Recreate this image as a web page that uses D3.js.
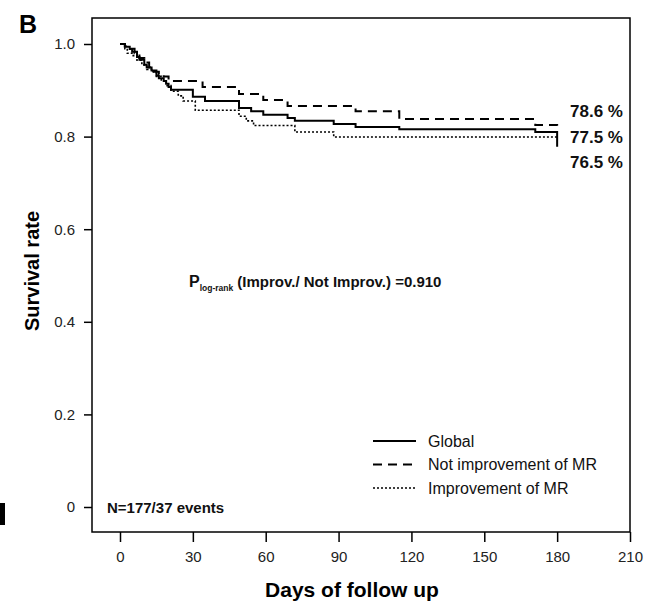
<!DOCTYPE html>
<html>
<head>
<meta charset="utf-8">
<script src="https://cdn.jsdelivr.net/npm/d3@7"></script>
<style>
  body { margin: 0; background: #fff; }
  svg { font-family: "Liberation Sans", Arial, sans-serif; }
</style>
</head>
<body>
<div id="chart"></div>
<script>
// Kaplan-Meier step data (days, survival)
var globalDays  = [0, 2, 4, 5, 7, 8, 10, 11, 13, 15, 16, 18, 19, 20, 21, 30, 35, 49, 54, 59, 69, 72, 88, 97, 115, 171, 180];
var globalSurv  = [1.0, 0.994, 0.989, 0.983, 0.972, 0.966, 0.955, 0.949, 0.943, 0.932, 0.926, 0.92, 0.914, 0.907, 0.901, 0.886, 0.877, 0.862, 0.855, 0.847, 0.840, 0.834, 0.827, 0.821, 0.816, 0.810, 0.778];

var notImpDays  = [0, 2, 4, 6, 8, 10, 12, 14, 16, 18, 20, 34, 49, 59, 69, 97, 115, 171, 180];
var notImpSurv  = [1.0, 0.995, 0.99, 0.98, 0.97, 0.96, 0.95, 0.94, 0.935, 0.93, 0.92, 0.907, 0.892, 0.879, 0.866, 0.855, 0.838, 0.825, 0.814];

var impDays     = [0, 2, 3, 5, 7, 9, 11, 13, 15, 17, 19, 21, 24, 26, 31, 49, 52, 55, 72, 88, 180];
var impSurv     = [1.0, 0.99, 0.98, 0.975, 0.965, 0.955, 0.945, 0.94, 0.93, 0.92, 0.91, 0.898, 0.888, 0.877, 0.857, 0.844, 0.834, 0.824, 0.810, 0.799, 0.799];

var xTicks = [0, 30, 60, 90, 120, 150, 180, 210];
var yTicks = [0, 0.2, 0.4, 0.6, 0.8, 1.0];
var endLabels = ["78.6 %", "77.5 %", "76.5 %"];
var legendNames = ["Global", "Not improvement of MR", "Improvement of MR"];

var width = 646, height = 601;

var svg = d3.select("#chart").append("svg")
    .attr("width", width)
    .attr("height", height);

var x = d3.scaleLinear().domain([0, 210]).range([120, 630]);
var y = d3.scaleLinear().domain([0, 1]).range([507, 44]);

// box around the plot
svg.append("rect")
    .attr("x", 92).attr("y", 18)
    .attr("width", 630 - 92).attr("height", 532 - 18)
    .attr("fill", "none")
    .attr("stroke", "#000")
    .attr("stroke-width", 1.5);

// y axis
var yAxis = svg.append("g")
    .attr("transform", "translate(92,0)")
    .call(d3.axisLeft(y).tickValues(yTicks).tickSize(8).tickPadding(9)
        .tickFormat(function(d) { return d === 0 ? "0" : d3.format(".1f")(d); }));
yAxis.select(".domain").remove();

// x axis
var xAxis = svg.append("g")
    .attr("transform", "translate(0,532)")
    .call(d3.axisBottom(x).tickValues(xTicks).tickSize(10).tickPadding(9));
xAxis.select(".domain").remove();

svg.selectAll(".tick line").attr("stroke", "#000").attr("stroke-width", 1.5);
svg.selectAll(".tick text")
    .attr("fill", "#222")
    .style("font-size", "15px")
    .style("font-family", "'Liberation Sans', Arial, sans-serif");

// axis titles
svg.append("text")
    .attr("x", 352).attr("y", 597)
    .attr("text-anchor", "middle")
    .attr("font-weight", "bold")
    .attr("font-size", 21)
    .text("Days of follow up");

svg.append("text")
    .attr("transform", "translate(39,271) rotate(-90)")
    .attr("text-anchor", "middle")
    .attr("font-weight", "bold")
    .attr("font-size", 20)
    .text("Survival rate");

// panel letter
svg.append("text")
    .attr("x", 19).attr("y", 33)
    .attr("font-weight", "bold")
    .attr("font-size", 25)
    .text("B");

// cut-off piece of the neighbouring panel at the left edge
svg.append("path")
    .attr("d", "M0,503 L5,503 L5,525 L0,525 Z")
    .attr("fill", "#000");

// curves
function toPoints(days, surv) {
    return days.map(function(d, i) { return [d, surv[i]]; });
}

var line = d3.line()
    .x(function(d) { return x(d[0]); })
    .y(function(d) { return y(d[1]); })
    .curve(d3.curveStepAfter);

var series = [
    { pts: toPoints(impDays, impSurv), dash: "2,2", w: 1.6 },
    { pts: toPoints(notImpDays, notImpSurv), dash: "9,6", w: 2 },
    { pts: toPoints(globalDays, globalSurv), dash: null, w: 2 }
];

svg.selectAll(".km")
    .data(series)
    .enter().append("path")
    .attr("class", "km")
    .attr("d", function(d) { return line(d.pts); })
    .attr("fill", "none")
    .attr("stroke", "#000")
    .attr("stroke-width", function(d) { return d.w; })
    .attr("stroke-dasharray", function(d) { return d.dash; });

// end percentages
svg.selectAll(".endlab")
    .data(endLabels)
    .enter().append("text")
    .attr("class", "endlab")
    .attr("x", 570)
    .attr("y", function(d, i) { return 117 + i * 25.5; })
    .attr("font-weight", "bold")
    .attr("font-size", 17)
    .attr("fill", "#111")
    .text(function(d) { return d; });

// log-rank text
var pt = svg.append("text")
    .attr("x", 189).attr("y", 287)
    .attr("font-weight", "bold")
    .attr("font-size", 15)
    .attr("fill", "#111");
pt.append("tspan").attr("font-size", 16).text("P");
pt.append("tspan").attr("font-size", 8.5).attr("dy", 4).text("log-rank");
pt.append("tspan").attr("dy", -4).text(" (Improv./ Not Improv.) =0.910");

// N text
svg.append("text")
    .attr("x", 107).attr("y", 513)
    .attr("font-weight", "bold")
    .attr("font-size", 15)
    .attr("fill", "#111")
    .text("N=177/37 events");

// legend
var legendStyles = [
    { dash: null, w: 2 },
    { dash: "9,6", w: 2 },
    { dash: "2,2", w: 1.6 }
];
var legend = svg.selectAll(".legend")
    .data(legendNames)
    .enter().append("g")
    .attr("class", "legend")
    .attr("transform", function(d, i) { return "translate(373," + (441 + i * 23.5) + ")"; });

legend.append("line")
    .attr("x1", 0).attr("x2", 43)
    .attr("y1", 0).attr("y2", 0)
    .attr("stroke", "#000")
    .attr("stroke-width", function(d, i) { return legendStyles[i].w; })
    .attr("stroke-dasharray", function(d, i) { return legendStyles[i].dash; });

legend.append("text")
    .attr("x", 55).attr("y", 5.5)
    .attr("font-size", 16)
    .attr("fill", "#111")
    .text(function(d) { return d; });
</script>
</body>
</html>
